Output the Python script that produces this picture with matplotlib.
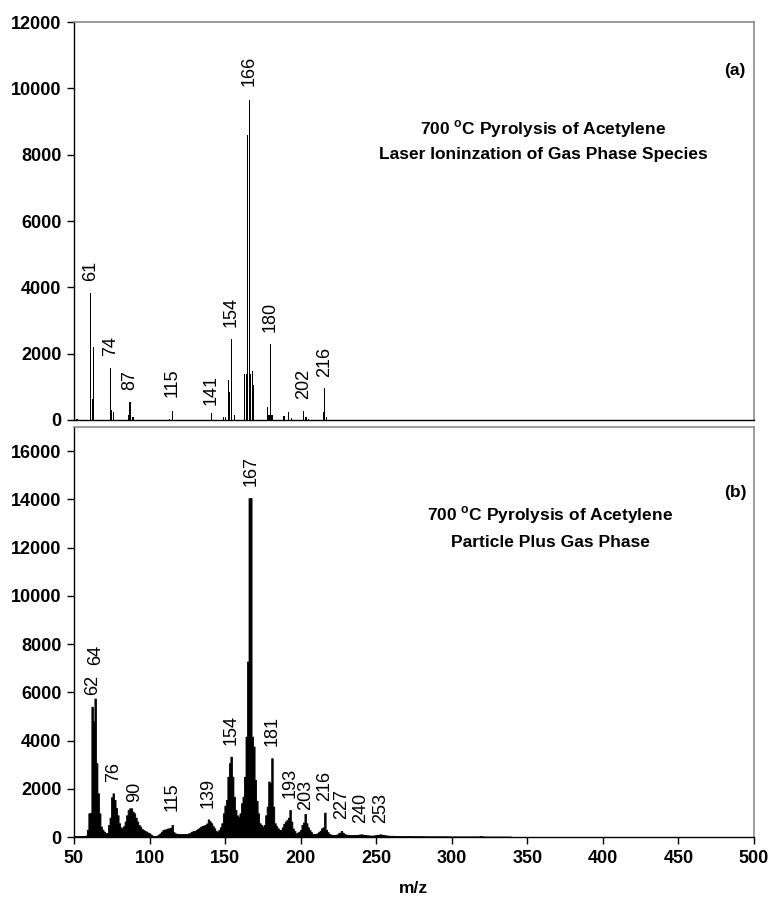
import numpy as np
import matplotlib
matplotlib.use("Agg")
import matplotlib.pyplot as plt

plt.rcParams["font.family"] = ["Liberation Sans", "DejaVu Sans"]
plt.rcParams["mathtext.fontset"] = "custom"
plt.rcParams["mathtext.rm"] = "Liberation Sans"
plt.rcParams["mathtext.bf"] = "Liberation Sans:bold"

# (a) laser ionization of gas phase species: stick spectrum
gas_mz = [52, 61, 62, 63, 74, 75, 76, 86, 87, 89, 113, 115, 141, 149, 150,
          152, 153, 154, 156, 163, 164, 165, 166, 167, 168, 169, 178, 179,
          180, 181, 189, 192, 194, 202, 203, 204, 205, 215, 216, 217]
gas_counts = [20, 3820, 630, 2190, 1560, 300, 250, 150, 550, 100, 20, 280, 200, 100, 100,
              1200, 850, 2440, 150, 1390, 1390, 8580, 9640, 1390, 1480, 1050, 400, 150,
              2290, 150, 120, 250, 60, 280, 100, 100, 30, 250, 954, 80]
gas_labels = [61, 74, 87, 115, 141, 154, 166, 180, 202, 216]

# (b) particle plus gas phase: m/z 50..339 at unit resolution
particle_mz = np.arange(50, 340)
particle_counts = [
    40, 40, 40, 40, 40, 40, 40, 45, 60, 300,             # 50
    980, 1000, 5400, 4800, 5740, 3060, 1810, 980, 430, 300,  # 60
    220, 150, 170, 500, 800, 1650, 1810, 1535, 1200, 900,  # 70
    570, 400, 360, 450, 640, 900, 1120, 1190, 1190, 1050,  # 80
    980, 800, 640, 500, 430, 330, 290, 250, 220, 180,     # 90
    150, 100, 50, 40, 40, 60, 100, 150, 220, 290,         # 100
    310, 320, 350, 360, 380, 500, 200, 150, 130, 125,     # 110
    125, 125, 120, 120, 125, 130, 150, 180, 220, 250,     # 120
    250, 290, 330, 380, 430, 460, 480, 500, 560, 730,     # 130
    650, 570, 450, 360, 250, 220, 290, 400, 570, 980,     # 140
    1300, 1535, 2500, 3060, 3330, 2500, 1670, 1120, 900, 840,  # 150
    980, 1400, 1670, 2500, 4160, 7275, 14050, 14050, 4160, 3750,  # 160
    2365, 1500, 980, 570, 500, 430, 500, 900, 1260, 2300,  # 170
    2230, 3265, 1260, 570, 450, 360, 300, 290, 400, 550,  # 180
    640, 700, 800, 1120, 640, 350, 250, 150, 180, 220,    # 190
    290, 500, 600, 955, 570, 400, 290, 200, 125, 125,     # 200
    125, 150, 200, 260, 360, 400, 1010, 300, 200, 125,    # 210
    100, 90, 80, 80, 100, 150, 180, 250, 180, 125,        # 220
    100, 90, 80, 80, 80, 80, 80, 80, 90, 100,             # 230
    110, 100, 90, 80, 70, 70, 60, 60, 60, 70,             # 240
    80, 90, 100, 110, 90, 80, 70, 60, 60, 50,             # 250
    50, 50, 45, 45, 45, 40, 40, 40, 40, 40,               # 260
    40, 40, 40, 35, 35, 35, 35, 35, 35, 35,               # 270
    35, 35, 30, 30, 30, 30, 30, 30, 30, 30,               # 280
    30, 30, 30, 30, 30, 30, 30, 30, 25, 25,               # 290
    25, 25, 25, 25, 25, 25, 25, 25, 25, 25,               # 300
    25, 25, 25, 25, 25, 25, 25, 25, 25, 40,               # 310
    25, 25, 20, 20, 20, 20, 20, 20, 20, 20,               # 320
    20, 20, 20, 20, 20, 20, 20, 20, 20, 20,               # 330
]
particle_labels = [62, 64, 76, 90, 115, 139, 154, 167, 181, 193, 203, 216, 227, 240, 253]

# extra label lift in points where the default gap differs
label_pad = {64: 24, 203: 3, 141: 6, 166: 10, 115: 10}

fig = plt.figure(figsize=(7.7, 9.05), dpi=100)
left = 74 / 770
width = (754 - 74) / 770
ax_a = fig.add_axes([left, 1 - 420 / 905, width, (420 - 22) / 905])
ax_b = fig.add_axes([left, 1 - 837 / 905, width, (837 - 427) / 905])


def style_axes(ax):
    for side in ["top", "right"]:
        ax.spines[side].set_color("#8c8c8c")
        ax.spines[side].set_linewidth(1.2)
    for side in ["left", "bottom"]:
        ax.spines[side].set_color("black")
        ax.spines[side].set_linewidth(1.0)
    ax.tick_params(direction="out", length=5, width=1, labelsize=13, pad=4)
    for lab in ax.get_yticklabels() + ax.get_xticklabels():
        lab.set_fontweight("bold")
    ax.set_xlim(50, 500)


def peak_labels(ax, mz, counts, labels):
    lookup = dict(zip(list(mz), counts))
    for m in labels:
        y = lookup.get(m, 0)
        ax.annotate(str(m), xy=(m, y), xytext=(0, label_pad.get(m, 8.5)),
                    textcoords="offset points", rotation=90,
                    ha="center", va="bottom", fontsize=13)


# panel (a)
ax_a.bar(gas_mz, gas_counts, width=0.8, color="black", linewidth=0)
ax_a.set_ylim(0, 12000)
ax_a.set_yticks(range(0, 12001, 2000))
ax_a.set_xticks(range(50, 501, 50))
style_axes(ax_a)
ax_a.tick_params(axis="x", length=0, labelbottom=False)
peak_labels(ax_a, gas_mz, gas_counts, gas_labels)
ax_a.text(0.972, 0.879, "(a)", transform=ax_a.transAxes, ha="center", va="center",
          fontsize=12.5, fontweight="bold")
ax_a.text(0.69, 0.731, r"700 $^\mathbf{o}$C Pyrolysis of Acetylene", transform=ax_a.transAxes,
          ha="center", va="center", fontsize=12.5, fontweight="bold")
ax_a.text(0.69, 0.666, "Laser Ioninzation of Gas Phase Species", transform=ax_a.transAxes,
          ha="center", va="center", fontsize=12.5, fontweight="bold")

# panel (b)
ax_b.fill_between(particle_mz, particle_counts, step="mid", color="black", linewidth=0.6)
ax_b.set_ylim(0, 17000)
ax_b.set_yticks(range(0, 16001, 2000))
ax_b.set_xticks(range(50, 501, 50))
style_axes(ax_b)
peak_labels(ax_b, particle_mz, particle_counts, particle_labels)
ax_b.text(0.972, 0.841, "(b)", transform=ax_b.transAxes, ha="center", va="center",
          fontsize=12.5, fontweight="bold")
ax_b.text(0.70, 0.785, r"700 $^\mathbf{o}$C Pyrolysis of Acetylene", transform=ax_b.transAxes,
          ha="center", va="center", fontsize=12.5, fontweight="bold")
ax_b.text(0.70, 0.7195, "Particle Plus Gas Phase", transform=ax_b.transAxes,
          ha="center", va="center", fontsize=12.5, fontweight="bold")

fig.text(413 / 770, 1 - 888 / 905, "m/z", ha="center", va="center",
         fontsize=12.5, fontweight="bold")

fig.savefig("out.png", dpi=100)
